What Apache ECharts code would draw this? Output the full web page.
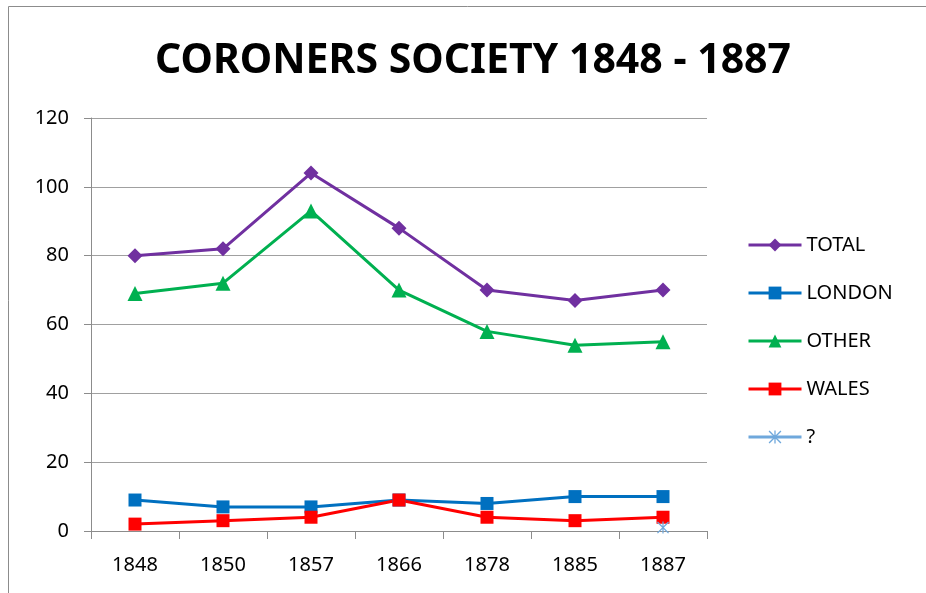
<!DOCTYPE html>
<html>
<head>
<meta charset="utf-8">
<script src="https://cdn.jsdelivr.net/npm/echarts@6/dist/echarts.min.js"></script>
<style>
  html, body { margin: 0; padding: 0; background: #fff; }
  #chart { width: 926px; height: 593px; }
</style>
</head>
<body>
<div id="chart"></div>
<script>
  const years = ['1848', '1850', '1857', '1866', '1878', '1885', '1887']
  const total = [80, 82, 104, 88, 70, 67, 70]
  const london = [9, 7, 7, 9, 8, 10, 10]
  const other = [69, 72, 93, 70, 58, 54, 55]
  const wales = [2, 3, 4, 9, 4, 3, 4]
  const unknown = [null, null, null, null, null, null, 1]

  const font = '"Noto Sans", sans-serif'
  const asterisk = 'path://M9,0h2v20h-2z M0,1.5L1.5,0L20,18.5L18.5,20z M18.5,0L20,1.5L1.5,20L0,18.5z'

  const mk = (name, data, color, symbol, size) => ({
    name, data, type: 'line',
    symbol, symbolSize: size,
    lineStyle: { color, width: 3 },
    itemStyle: { color },
    connectNulls: false
  })

  const chart = echarts.init(document.getElementById('chart'))
  chart.setOption({
    animation: false,
    graphic: [{
      type: 'polyline', shape: { points: [[8.5, 600], [8.5, 6.5], [930, 6.5]] },
      style: { fill: 'none', stroke: '#8c8c8c', lineWidth: 1 }
    }],
    title: {
      text: 'CORONERS SOCIETY 1848 - 1887',
      left: 468, top: 36, textAlign: 'center',
      textStyle: { fontFamily: font, fontWeight: 'bold', fontSize: 41, color: '#000' }
    },
    grid: { left: 91, right: 219, top: 118, bottom: 62 },
    legend: {
      orient: 'vertical', left: 742, top: 230,
      itemWidth: 53, itemHeight: 16, itemGap: 28,
      lineStyle: { width: 3 },
      textStyle: { fontFamily: font, fontSize: 20, color: '#000' },
      data: ['TOTAL', 'LONDON', 'OTHER', 'WALES', '?']
    },
    xAxis: {
      type: 'category', data: years, boundaryGap: true,
      axisLine: { lineStyle: { color: '#8c8c8c', width: 1 } },
      axisTick: { show: true, length: 8, lineStyle: { color: '#8c8c8c' } },
      axisLabel: { fontFamily: font, fontSize: 20, color: '#000', margin: 24 }
    },
    yAxis: {
      type: 'value', min: 0, max: 120, interval: 20,
      axisLine: { show: true, lineStyle: { color: '#8c8c8c', width: 1 } },
      axisTick: { show: true, length: 7, lineStyle: { color: '#8c8c8c' } },
      axisLabel: { fontFamily: font, fontSize: 20, color: '#000', margin: 22 },
      splitLine: { lineStyle: { color: '#a0a0a0', width: 1 } }
    },
    series: [
      mk('TOTAL', total, '#7030A0', 'diamond', 15),
      mk('LONDON', london, '#0070C0', 'rect', 13),
      mk('OTHER', other, '#00B050', 'triangle', 15),
      mk('WALES', wales, '#FF0000', 'rect', 13),
      mk('?', unknown, '#6FA8DC', asterisk, 12)
    ]
  })
</script>
</body>
</html>
